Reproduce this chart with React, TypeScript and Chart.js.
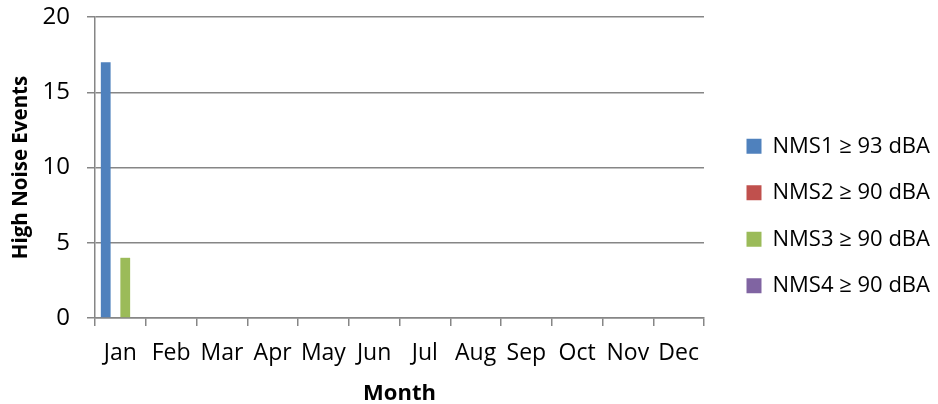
import React, { useEffect, useRef } from "react";
import { Chart, registerables } from "chart.js";

Chart.register(...registerables);

const months = ["Jan", "Feb", "Mar", "Apr", "May", "Jun", "Jul", "Aug", "Sep", "Oct", "Nov", "Dec"];
const seriesLabels = ["NMS1 ≥ 93 dBA", "NMS2 ≥ 90 dBA", "NMS3 ≥ 90 dBA", "NMS4 ≥ 90 dBA"];
const nms1 = [17, 0, 0, 0, 0, 0, 0, 0, 0, 0, 0, 0];
const nms2 = [0, 0, 0, 0, 0, 0, 0, 0, 0, 0, 0, 0];
const nms3 = [4, 0, 0, 0, 0, 0, 0, 0, 0, 0, 0, 0];
const nms4 = [0, 0, 0, 0, 0, 0, 0, 0, 0, 0, 0, 0];
const seriesColors = ["#4F81BD", "#C0504D", "#9BBB59", "#8064A2"];
const yMin = 0;
const yMax = 20;
const yStep = 5;

const FONT = "'Open Sans', 'Noto Sans', sans-serif";
const GRID = "#868686";

export default function App() {
  const ref = useRef<HTMLCanvasElement | null>(null);

  useEffect(() => {
    if (!ref.current) return;
    const values = [nms1, nms2, nms3, nms4];
    const chart = new Chart(ref.current, {
      type: "bar",
      data: {
        labels: months,
        datasets: values.map((v, i) => ({
          label: seriesLabels[i],
          data: v,
          backgroundColor: seriesColors[i],
          borderWidth: 0,
          categoryPercentage: 0.77,
          barPercentage: 1,
        })),
      },
      options: {
        animation: false,
        responsive: true,
        maintainAspectRatio: false,
        layout: { padding: { top: 4, left: 0, right: 0, bottom: 0 } },
        plugins: {
          tooltip: { enabled: false },
          legend: {
            position: "right",
            align: "center",
            maxWidth: 216,
            title: { display: true, text: " ", padding: 0, font: { size: 20, lineHeight: 1.2 } },
            labels: {
              boxWidth: 15,
              boxHeight: 15,
              padding: 24.5,
              color: "#000",
              font: { family: FONT, size: 22 },
            },
          },
        },
        scales: {
          x: {
            grid: {
              display: true,
              drawOnChartArea: false,
              drawTicks: true,
              tickLength: 8,
              color: GRID,
              lineWidth: 1.5,
              offset: true,
            },
            border: { display: true, color: GRID, width: 1.5 },
            ticks: {
              color: "#000",
              font: { family: FONT, size: 23 },
              padding: 14,
              maxRotation: 0,
              autoSkip: false,
            },
            title: {
              display: true,
              text: "Month",
              color: "#000",
              font: { family: FONT, size: 22, weight: "bold", lineHeight: 1.1 },
              padding: { top: 13, bottom: -2 },
            },
            afterFit: (s: any) => {
              s.height = 86;
            },
          },
          y: {
            min: yMin,
            max: yMax,
            ticks: {
              stepSize: yStep,
              color: "#000",
              font: { family: FONT, size: 24 },
              padding: 17,
            },
            grid: { color: GRID, lineWidth: 1.5, tickLength: 8 },
            border: { display: true, color: GRID, width: 1.5 },
            title: {
              display: true,
              text: "High Noise Events",
              color: "#000",
              font: { family: FONT, size: 20.5, weight: "bold" },
              padding: { top: 9, bottom: 0 },
            },
            afterFit: (s: any) => {
              s.width = 95;
              s.paddingTop = 17;
              s.paddingBottom = 0;
            },
          },
          y2: {
            type: "linear",
            axis: "y",
            position: "right",
            display: true,
            grid: { display: false },
            border: { display: false },
            ticks: { display: false },
            afterFit: (s: any) => {
              s.width = 18;
            },
          },
        },
      } as any,
    });
    return () => chart.destroy();
  }, []);

  return (
    <div style={{ position: "absolute", left: 0, top: 0, width: 938, height: 404, background: "#fff" }}>
      <canvas ref={ref} />
    </div>
  );
}
